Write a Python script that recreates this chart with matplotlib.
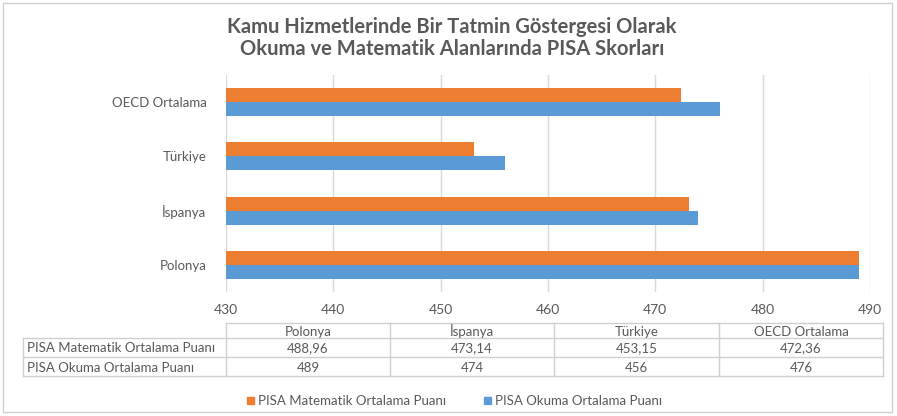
import matplotlib
matplotlib.use("Agg")
import matplotlib.pyplot as plt
from matplotlib.patches import Rectangle
import numpy as np

plt.rcParams['font.family'] = ['Lato', 'DejaVu Sans']

# data
countries = ["Polonya", "İspanya", "Türkiye", "OECD Ortalama"]
matematik = [488.96, 473.14, 453.15, 472.36]
okuma = [489, 474, 456, 476]
mat_labels = ["488,96", "473,14", "453,15", "472,36"]
oku_labels = ["489", "474", "456", "476"]
series_names = ["PISA Matematik Ortalama Puanı", "PISA Okuma Ortalama Puanı"]
title_lines = ["Kamu Hizmetlerinde Bir Tatmin Göstergesi Olarak",
               "Okuma ve Matematik Alanlarında PISA Skorları"]

ORANGE = "#ED7D31"
BLUE = "#5B9BD5"
TXT = "#595959"
GRID = "#D9D9D9"
FS = 9.5

W, H = 897, 416
fig = plt.figure(figsize=(W / 100, H / 100), dpi=100)

# overlay axes in pixel coords for border, table and legend
ov = fig.add_axes([0, 0, 1, 1])
ov.set_xlim(0, W)
ov.set_ylim(H, 0)
ov.axis("off")
ov.add_patch(Rectangle((3, 3), 889, 409, fill=False, edgecolor="#D0D0D0", lw=1))

# main bar axes
x0, x1, y0, y1 = 226, 870, 75, 292
ax = fig.add_axes([x0 / W, 1 - y1 / H, (x1 - x0) / W, (y1 - y0) / H])
pos = np.arange(len(countries))
h = 0.26
ax.barh(pos - h / 2, okuma, height=h, color=BLUE, zorder=3)
ax.barh(pos + h / 2, matematik, height=h, color=ORANGE, zorder=3)
ax.set_xlim(430, 490)
ax.set_ylim(-0.5, len(countries) - 0.5)
ax.set_xticks(np.arange(430, 491, 10))
ax.set_yticks(pos)
ax.set_yticklabels(countries)
ax.tick_params(axis="x", length=0, pad=9, labelsize=10, labelcolor=TXT)
ax.tick_params(axis="y", length=0, pad=14, labelsize=FS, labelcolor=TXT)
ax.grid(axis="x", color=GRID, lw=1, zorder=0)
for s in ax.spines.values():
    s.set_visible(False)
ax.set_facecolor("none")

for ty, line in zip([27, 49], title_lines):
    ov.text(452, ty, line, ha="center", va="center", fontsize=14.5,
            fontweight="bold", color=TXT)

# data table
col_x = [23, 226, 390, 554, 719, 883]
row_y = [323, 338, 357, 376]
lc = "#CFCFCF"
ov.plot([col_x[1], col_x[-1]], [row_y[0]] * 2, color=lc, lw=1)
for yy in row_y[1:]:
    ov.plot([col_x[0], col_x[-1]], [yy] * 2, color=lc, lw=1)
ov.plot([col_x[0]] * 2, [row_y[1], row_y[-1]], color=lc, lw=1)
for xx in col_x[1:]:
    ov.plot([xx] * 2, [row_y[0], row_y[-1]], color=lc, lw=1)
kw = dict(ha="center", va="center_baseline", fontsize=FS, color=TXT)
for i, c in enumerate(countries):
    cx = (col_x[i + 1] + col_x[i + 2]) / 2
    ov.text(cx, (row_y[0] + row_y[1]) / 2, c, **kw)
    ov.text(cx, (row_y[1] + row_y[2]) / 2, mat_labels[i], **kw)
    ov.text(cx, (row_y[2] + row_y[3]) / 2, oku_labels[i], **kw)
for r, name in enumerate(series_names):
    ov.text(27, (row_y[r + 1] + row_y[r + 2]) / 2, name, ha="left",
            va="center_baseline", fontsize=FS, color=TXT)

# legend
for lx, name, col in [(247, series_names[0], ORANGE), (484, series_names[1], BLUE)]:
    ov.add_patch(Rectangle((lx, 397), 7, 7, color=col))
    ov.text(lx + 11, 401, name, ha="left", va="center", fontsize=FS, color=TXT)

fig.savefig("out.png", dpi=100)
